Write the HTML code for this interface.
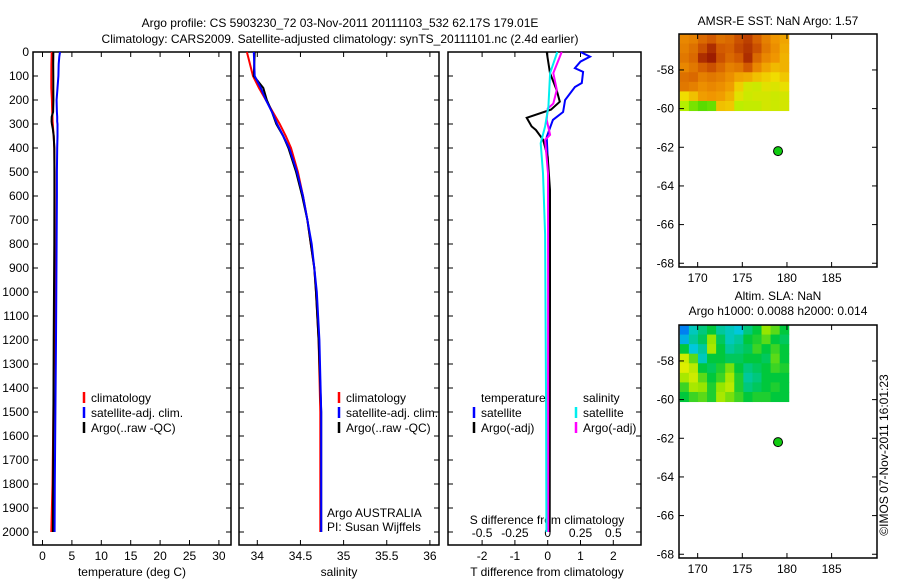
<!DOCTYPE html>
<html><head><meta charset="utf-8"><style>
body{margin:0;background:#fff;}
svg{display:block;font-family:"Liberation Sans",sans-serif;}
text{font-size:12px;fill:#000;}
</style></head><body>
<svg id="c" width="900" height="580"></svg>
<script>
// ---- data ----
const tDepth=[0,20,50,100,150,200,250,270,290,300,320,350,400,500,600,800,1000,1200,1500,1800,2000];
const tArgo=[1.84,1.84,1.82,1.83,1.84,1.86,1.8,1.56,1.55,1.6,1.75,1.9,2.0,2.02,2.02,2.0,1.95,1.9,1.85,1.8,1.78];
const tSat=[2.97,2.85,2.75,2.7,2.55,2.4,2.45,2.5,2.5,2.55,2.55,2.55,2.5,2.45,2.45,2.4,2.35,2.3,2.2,2.1,2.05];
const tClim=[1.56,1.55,1.52,1.5,1.5,1.6,1.65,1.7,1.72,1.75,1.8,1.9,2.0,2.05,2.08,2.1,2.1,2.0,1.85,1.7,1.5];
const sDepth=[0,100,150,200,250,300,350,400,500,600,700,800,900,1000,1200,1500,2000];
const sArgo=[33.97,33.96,34.07,34.11,34.17,34.22,34.3,34.36,34.45,34.52,34.58,34.62,34.66,34.68,34.71,34.74,34.74];
const sSat=[33.96,33.97,34.04,34.1,34.17,34.23,34.3,34.37,34.46,34.53,34.58,34.63,34.66,34.69,34.72,34.74,34.74];
const sClim=[33.88,33.95,34.02,34.1,34.18,34.26,34.33,34.39,34.47,34.53,34.58,34.62,34.66,34.68,34.71,34.73,34.73];
const dtDepth=[0,19,40,67,83,129,146,200,250,283,354,500,1000,2000];
const dtSat=[1.0,1.29,1.0,0.83,1.08,1.04,0.83,0.53,0.47,0.16,-0.03,0.02,0.03,0.05];
const daDepth=[0,88,158,207,240,274,310,325,366,437,575,1000,2000];
const dtArgo=[-0.03,0.07,0.27,0.37,0.1,-0.64,-0.49,-0.36,-0.14,0.0,0.07,0.07,0.06];
const dsDepth=[0,88,158,215,236,283,345,366,505,1000,2000];
const dsArgo=[0.107,0.043,0.069,0.043,0,-0.008,0.018,-0.02,0.002,0.003,0.003];
const dcDepth=[0,88,228,310,380,505,760,1500,2000];
const dsSat=[0.073,0.018,0.005,-0.02,-0.053,-0.036,-0.02,-0.012,-0.01];
const sstGrid=[
[3.2,3.3,3.6,3.8,3.5,3.6,3.9,4.1,3.7,3.3,3.0,2.8],
[3.3,3.5,3.9,4.3,3.8,3.7,4.0,4.2,3.9,3.4,3.1,2.7],
[3.4,3.6,4.3,4.5,3.9,3.6,3.8,4.3,3.6,3.2,3.0,2.6],
[3.2,3.4,3.7,3.9,3.6,3.3,3.4,3.8,3.2,2.8,2.5,2.6],
[3.5,3.6,3.3,3.4,3.3,3.1,2.8,2.7,2.4,2.2,2.0,2.3],
[3.4,3.3,3.1,3.2,3.1,2.9,2.2,1.6,1.5,1.8,1.7,1.9],
[2.0,2.4,2.9,3.0,2.9,2.6,1.8,1.5,1.6,1.6,1.5,1.6],
[1.2,0.8,0.6,0.7,2.4,2.3,1.3,1.4,1.4,1.6,1.5,1.6]];
const slaGrid=[
[-0.8,-0.4,-0.2,0,-0.3,-0.4,-0.5,-0.2,0,0.5,0.3,0],
[-0.6,-0.3,-0.1,0.5,-0.1,-0.4,-0.3,0,0.1,0.3,0,-0.1],
[0,-0.5,-0.3,0.6,0,-0.3,-0.2,-0.1,0.2,0,0.2,0],
[0.8,0.3,-0.4,0,0,-0.1,-0.1,0,0,-0.1,0.3,0],
[0.9,0.7,0,-0.1,0.1,0.4,0,-0.2,-0.1,0,0.2,0.1],
[0.6,0.8,0.3,0,0.2,0.6,0.1,-0.3,-0.2,0,0,0],
[0.2,0.6,0.5,0.1,0.5,0.7,0.1,-0.2,-0.1,0,0.1,0],
[0,0.2,0.3,0.1,0.6,0.4,0.2,0,0.1,0.1,0,0]];
const depthTicks=[0,100,200,300,400,500,600,700,800,900,1000,1100,1200,1300,1400,1500,1600,1700,1800,1900,2000];
const tTicks=[0,5,10,15,20,25,30];
const sTicks=[34,34.5,35,35.5,36];
const dTicks=[-2,-1,0,1,2];
const dsTickLabels=["-0.5","-0.25","0","0.25","0.5"];
const lonTicks=[170,175,180,185];
const latTicks=[-58,-60,-62,-64,-66,-68];
const argoLon=179, argoLat=-62.2;

// ---- helpers ----
const svg=document.getElementById('c');
const NS='http://www.w3.org/2000/svg';
function el(tag,attrs,parent){const e=document.createElementNS(NS,tag);for(const k in attrs)e.setAttribute(k,attrs[k]);(parent||svg).appendChild(e);return e;}
function txt(x,y,s,anchor,extra){const t=el('text',Object.assign({x:x,y:y,'text-anchor':anchor||'start'},extra||{}));t.textContent=s;return t;}
const Y=d=>52+d*0.24;
const TOP=52,BOT=545;
const xT=v=>42.5+v*5.88;
const xS=v=>257.3+(v-34)*86.3;
const xD=v=>547.7+v*32.8;
const xDS=v=>547.7+v*131.2;

function panel(x0,x1,name){
  const r=el('rect',{x:x0,y:TOP,width:x1-x0,height:BOT-TOP,fill:'none',stroke:'#000','stroke-width':1.5});
  
  
  depthTicks.forEach(d=>{el('line',{x1:x0,x2:x0+5,y1:Y(d),y2:Y(d),stroke:'#000'});el('line',{x1:x1-5,x2:x1,y1:Y(d),y2:Y(d),stroke:'#000'});});
}
function line(xs,ds,fx,color,w,name){
  const pts=xs.map((v,i)=>fx(v).toFixed(1)+','+Y(ds[i]).toFixed(1)).join(' ');
  const p=el('polyline',{points:pts,fill:'none',stroke:color,'stroke-width':w});
  
  
}

// titles
let t=txt(340,27,'Argo profile: CS 5903230_72 03-Nov-2011 20111103_532 62.17S 179.01E','middle',{'font-size':'14px'});

t=txt(340,43,'Climatology: CARS2009. Satellite-adjusted climatology: synTS_20111101.nc (2.4d earlier)','middle',{'font-size':'14px'});


// panel 1
panel(33,231,'temperature-panel');
depthTicks.forEach(d=>{const l=txt(29,Y(d)+4,String(d),'end');});
tTicks.forEach(v=>{el('line',{x1:xT(v),x2:xT(v),y1:BOT,y2:BOT-5,stroke:'#000'});el('line',{x1:xT(v),x2:xT(v),y1:TOP,y2:TOP+5,stroke:'#000'});txt(xT(v),560,String(v),'middle');});
txt(132,576,'temperature (deg C)','middle');
line(tClim,tDepth,xT,'#f00',2,'temperature-climatology-line');
line(tArgo,tDepth,xT,'#000',2,'temperature-argo-line');
line(tSat,tDepth,xT,'#00f',2,'temperature-satellite-line');
function legend(x,y,items,name){
  items.forEach((it,i)=>{el('line',{x1:x,x2:x,y1:y+i*15-10,y2:y+i*15+1,stroke:it[1],'stroke-width':2.5});const l=txt(x+7,y+i*15,it[0]);});
}
legend(84,402,[['climatology','#f00'],['satellite-adj. clim.','#00f'],['Argo(..raw -QC)','#000']],'temperature-legend');

// panel 2
panel(239,439,'salinity-panel');
sTicks.forEach(v=>{el('line',{x1:xS(v),x2:xS(v),y1:BOT,y2:BOT-5,stroke:'#000'});el('line',{x1:xS(v),x2:xS(v),y1:TOP,y2:TOP+5,stroke:'#000'});txt(xS(v),560,String(v),'middle');});
txt(339,576,'salinity','middle');
line(sClim,sDepth,xS,'#f00',2,'salinity-climatology-line');
line(sArgo,sDepth,xS,'#000',2,'salinity-argo-line');
line(sSat,sDepth,xS,'#00f',2,'salinity-satellite-line');
legend(339,402,[['climatology','#f00'],['satellite-adj. clim.','#00f'],['Argo(..raw -QC)','#000']],'salinity-legend');
txt(327,517,'Argo AUSTRALIA');
txt(327,531,'PI: Susan Wijffels');

// panel 3
panel(448,641,'difference-panel');
dTicks.forEach(v=>{el('line',{x1:xD(v),x2:xD(v),y1:BOT,y2:BOT-5,stroke:'#000'});el('line',{x1:xD(v),x2:xD(v),y1:TOP,y2:TOP+5,stroke:'#000'});txt(xD(v),560,String(v),'middle');});
dsTickLabels.forEach((s,i)=>txt(xD(dTicks[i]),537,s,'middle'));
txt(547,524,'S difference from climatology','middle');
txt(547,576,'T difference from climatology','middle');
line(dtSat,dtDepth,xD,'#00f',2,'t-diff-satellite-line');
line(dtArgo,daDepth,xD,'#000',2,'t-diff-argo-line');
line(dsArgo,dsDepth,xDS,'#f0f',2,'s-diff-argo-line');
line(dsSat,dcDepth,xDS,'#0ee',2,'s-diff-satellite-line');
txt(481,402,'temperature');
txt(583,402,'salinity');
legend(474,417,[['satellite','#00f'],['Argo(-adj)','#000']],'diff-legend-t');
legend(576,417,[['satellite','#0ee'],['Argo(-adj)','#f0f']],'diff-legend-s');

// maps
function sstColor(v){const stops=[[0,[0,200,0]],[1.2,[180,240,0]],[2,[240,220,0]],[3,[240,150,0]],[3.8,[210,90,0]],[4.6,[150,20,0]]];
  for(let i=1;i<stops.length;i++){if(v<=stops[i][0]){const a=stops[i-1],b=stops[i];const f=Math.max(0,(v-a[0])/(b[0]-a[0]));return 'rgb('+a[1].map((c,k)=>Math.round(c+(b[1][k]-c)*f)).join(',')+')';}}return 'rgb(150,20,0)';}
function slaColor(v){const stops=[[-1,[0,80,255]],[-0.5,[0,200,220]],[0,[0,200,60]],[0.5,[150,230,0]],[1,[240,240,0]]];
  for(let i=1;i<stops.length;i++){if(v<=stops[i][0]){const a=stops[i-1],b=stops[i];const f=Math.max(0,(v-a[0])/(b[0]-a[0]));return 'rgb('+a[1].map((c,k)=>Math.round(c+(b[1][k]-c)*f)).join(',')+')';}}return 'rgb(240,240,0)';}
function map(top,grid,cfn,name,cellName){
  const lonX=l=>679.8+(l-168)*8.93;
  const latY=l=>top+(-56.14-l)*19.33;
  const g=el('g',{});
  
  
  const rows=grid.length,cols=grid[0].length;
  const lon0=168,lon1=180.2,lat0=-56.14,lat1=-60.1;
  grid.forEach((row,r)=>row.forEach((v,c)=>{
    const x=lonX(lon0+(lon1-lon0)*c/cols),x2=lonX(lon0+(lon1-lon0)*(c+1)/cols);
    const y=latY(lat0+(lat1-lat0)*r/rows),y2=latY(lat0+(lat1-lat0)*(r+1)/rows);
    const cell=el('rect',{x:x,y:y,width:x2-x+0.5,height:y2-y+0.5,fill:cfn(v)},g);
    
    
  }));
  el('rect',{x:679,y:top,width:198,height:233,fill:'none',stroke:'#000','stroke-width':1.5},g);
  lonTicks.forEach(l=>{el('line',{x1:lonX(l),x2:lonX(l),y1:top,y2:top+5,stroke:'#000'},g);el('line',{x1:lonX(l),x2:lonX(l),y1:top+233,y2:top+228,stroke:'#000'},g);txt(lonX(l),top+248,String(l),'middle');});
  latTicks.forEach(l=>{el('line',{x1:679,x2:684,y1:latY(l),y2:latY(l),stroke:'#000'},g);el('line',{x1:872,x2:877,y1:latY(l),y2:latY(l),stroke:'#000'},g);txt(674,latY(l)+4,String(l),'end');});
  const dot=el('circle',{cx:lonX(argoLon),cy:latY(argoLat),r:4.5,fill:'#1c1',stroke:'#000','stroke-width':1},g);
  
  
}
txt(778,25,'AMSR-E SST: NaN Argo: 1.57','middle');
map(34,sstGrid,sstColor,'sst-map','sst-cell');
txt(778,300,'Altim. SLA: NaN','middle');
txt(778,315,'Argo h1000: 0.0088 h2000: 0.014','middle');
map(325,slaGrid,slaColor,'sla-map','sla-cell');

t=txt(0,0,'©IMOS 07-Nov-2011 16:01:23','middle',{transform:'translate(888,455) rotate(-90)'});

</script>
</body></html>
